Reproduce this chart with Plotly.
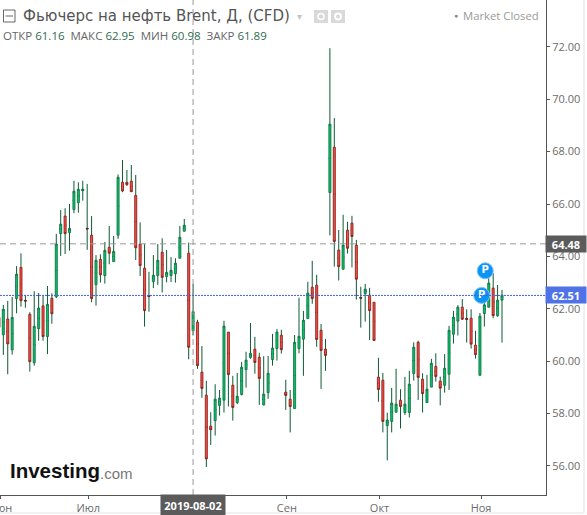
import plotly.graph_objects as go

# daily Brent bars, 2019-06-03 .. 2019-11-08, one entry per trading day
opens = [61.67, 61.01, 61.61, 60.43, 62.39, 63.58, 62.32, 61.79, 59.94, 61.24,
         62.11, 60.94, 62.40, 62.46, 64.87, 65.54, 64.91, 65.79, 66.05, 66.51,
         65.07, 64.81, 62.92, 63.89, 63.27, 64.35, 63.80, 64.81, 66.83, 66.83,
         66.87, 66.33, 64.47, 63.55, 62.49, 63.04, 63.27, 64.16, 63.23, 63.27,
         63.34, 63.93, 64.96, 64.12, 61.16, 61.49, 59.58, 58.70, 57.52, 57.73,
         58.31, 58.51, 61.11, 59.08, 58.42, 58.73, 59.68, 60.14, 60.46, 60.15,
         58.33, 58.80, 60.06, 60.48, 60.99, 58.82, 58.55, 58.19, 60.48, 60.84,
         61.63, 62.82, 62.90, 61.18, 60.46, 66.44, 68.17, 64.24, 63.51, 65.00,
         65.27, 64.43, 62.43, 62.58, 62.52, 62.25, 59.39, 59.27, 57.54, 57.70,
         58.05, 58.51, 58.04, 58.04, 59.53, 60.72, 59.31, 58.42, 59.01, 59.80,
         59.24, 59.08, 59.50, 61.03, 61.53, 62.06, 61.63, 61.64, 60.61, 59.46,
         61.82, 62.06, 62.79, 61.73, 62.33]
highs = [62.00, 62.15, 62.30, 62.45, 63.63, 64.12, 62.53, 61.87, 62.67, 62.60,
         62.49, 62.87, 62.59, 64.86, 65.77, 65.84, 66.00, 66.89, 66.83, 66.89,
         66.77, 65.54, 64.05, 64.08, 64.55, 65.16, 64.78, 67.13, 67.68, 67.30,
         67.49, 67.11, 65.30, 64.47, 63.41, 64.05, 64.47, 64.69, 64.25, 63.97,
         63.93, 65.16, 65.43, 64.53, 62.95, 61.58, 60.58, 59.25, 58.05, 59.12,
         58.90, 61.54, 61.11, 59.44, 59.55, 59.97, 60.36, 61.46, 60.93, 60.32,
         60.19, 60.20, 61.04, 61.23, 61.20, 59.29, 58.90, 61.00, 62.42, 61.92,
         63.03, 63.83, 63.30, 61.42, 60.85, 71.95, 69.28, 65.01, 65.59, 65.32,
         65.55, 64.63, 62.84, 62.95, 62.80, 62.25, 60.13, 59.55, 58.03, 58.98,
         59.71, 58.93, 59.40, 59.63, 60.72, 60.78, 59.54, 59.48, 60.09, 60.30,
         59.41, 60.27, 61.35, 61.92, 62.14, 62.37, 61.98, 61.98, 61.16, 61.84,
         62.47, 63.17, 63.36, 62.91, 62.72]
lows = [61.10, 60.24, 59.50, 60.25, 61.83, 62.08, 62.04, 59.60, 59.83, 60.78,
        60.78, 60.27, 61.43, 62.41, 64.02, 64.09, 64.22, 65.65, 65.67, 66.13,
        64.25, 62.25, 62.12, 63.00, 62.96, 63.70, 63.80, 64.67, 66.45, 66.69,
        66.47, 63.86, 63.25, 61.32, 61.89, 62.79, 62.91, 62.62, 63.01, 63.02,
        63.00, 63.93, 64.96, 60.07, 60.98, 59.71, 58.60, 55.96, 56.80, 57.16,
        57.92, 58.04, 58.27, 57.73, 58.36, 58.69, 58.99, 60.09, 59.52, 58.33,
        58.31, 58.56, 59.83, 60.02, 60.29, 58.14, 57.28, 58.19, 60.30, 59.44,
        61.63, 62.19, 60.55, 58.94, 59.63, 64.80, 63.61, 63.08, 63.51, 64.11,
        63.58, 62.35, 61.28, 61.51, 60.81, 60.79, 58.45, 57.28, 56.21, 57.28,
        58.05, 57.43, 57.95, 57.85, 59.26, 58.52, 58.04, 58.42, 59.01, 59.22,
        58.31, 58.80, 58.90, 60.67, 60.98, 61.58, 60.71, 60.48, 60.10, 59.46,
        61.32, 62.06, 61.64, 61.70, 60.71]
closes = [61.29, 61.98, 60.66, 61.67, 63.32, 62.31, 62.30, 59.98, 61.33, 62.03,
          60.94, 62.17, 61.81, 64.47, 65.23, 64.87, 65.07, 66.49, 66.56, 66.57,
          65.05, 62.39, 63.85, 63.30, 64.23, 64.12, 64.19, 67.02, 66.50, 66.74,
          66.47, 64.33, 63.65, 61.93, 62.47, 63.28, 63.85, 63.20, 63.39, 63.47,
          63.74, 64.73, 65.19, 60.53, 61.89, 59.83, 58.96, 56.27, 57.38, 58.55,
          58.59, 61.34, 59.49, 58.23, 58.66, 59.77, 60.04, 60.30, 59.95, 59.34,
          58.74, 59.54, 60.50, 61.11, 60.44, 58.69, 58.27, 60.72, 60.95, 61.56,
          62.60, 62.39, 60.83, 60.41, 60.22, 69.05, 64.57, 63.61, 64.43, 64.31,
          64.76, 63.13, 62.41, 62.75, 61.93, 60.79, 58.92, 57.70, 57.75, 58.40,
          58.36, 58.27, 58.36, 59.12, 60.53, 59.38, 58.76, 58.93, 59.92, 59.41,
          58.97, 59.73, 61.18, 61.68, 62.06, 61.60, 61.60, 60.65, 60.25, 61.72,
          62.15, 62.98, 61.74, 62.33, 62.52]

tick_days = [0, 20, 65, 86, 109]
tick_labels = ["Июн", "Июл", "Сен", "Окт", "Ноя"]
price_ticks = [56, 58, 60, 62, 64, 66, 68, 70, 72]
cross_day = 44
cross_label = "2019-08-02"
cross_price = 64.48
last_price = 62.51
pivot_days = [109.4, 110.2]
pivot_prices = [62.51, 63.45]

days = list(range(len(closes)))
body_top = [max(o, c) for o, c in zip(opens, closes)]
body_bot = [min(o, c) for o, c in zip(opens, closes)]
body_mid = [(o + c) / 2 for o, c in zip(opens, closes)]

WICK = "#0d5a36"
GREY = "#6b6b6b"
W, H = 587, 515
R, B = 546, 495  # plot area edge in page pixels


def px(x):
    return x / R


def py(y):
    return (B - y) / B


fig = go.Figure()
# wicks first (body collapsed to its midpoint), then the real bodies on top so red bars keep a green wick
fig.add_trace(go.Candlestick(x=days, open=body_mid, high=highs, low=lows, close=body_mid,
                             increasing=dict(line=dict(color=WICK, width=1), fillcolor=WICK),
                             decreasing=dict(line=dict(color=WICK, width=1), fillcolor=WICK),
                             whiskerwidth=0, hoverinfo="skip", showlegend=False))
fig.add_trace(go.Candlestick(x=days, open=opens, high=body_top, low=body_bot, close=closes,
                             increasing=dict(line=dict(color="#146b42", width=0.8), fillcolor="#00c466"),
                             decreasing=dict(line=dict(color="#7a1f1c", width=0.8), fillcolor="#ff4a3d"),
                             whiskerwidth=0, showlegend=False))
fig.add_trace(go.Scatter(x=pivot_days, y=pivot_prices, mode="markers+text", text=["P", "P"],
                         textposition="middle center",
                         textfont=dict(family="DejaVu Sans", size=10, color="white", weight="bold"),
                         marker=dict(size=16, color="#0b93f6", line=dict(color="#7cc4fa", width=1)),
                         hoverinfo="skip", showlegend=False))

shapes = [
    dict(type="line", xref="x", yref="paper", x0=cross_day, x1=cross_day, y0=0, y1=py(0),
         line=dict(color="#9a9a9a", width=1, dash="6px,4px")),
    dict(type="line", xref="paper", yref="y", x0=0, x1=1, y0=cross_price, y1=cross_price,
         line=dict(color="#9a9a9a", width=1, dash="6px,4px")),
    dict(type="line", xref="paper", yref="y", x0=0, x1=1, y0=last_price, y1=last_price,
         line=dict(color="#3f63d8", width=1, dash="2px,1px")),
    # collapse icon in the header
    dict(type="rect", xref="paper", yref="paper", x0=px(3.5), x1=px(15), y0=py(10), y1=py(22),
         line=dict(color="#666666", width=1)),
    dict(type="line", xref="paper", yref="paper", x0=px(5.5), x1=px(13), y0=py(16), y1=py(16),
         line=dict(color="#666666", width=1)),
    # greyed header buttons
    dict(type="rect", xref="paper", yref="paper", x0=px(314), x1=px(328), y0=py(10), y1=py(23),
         line=dict(width=0), fillcolor="#d9d9d9"),
    dict(type="circle", xref="paper", yref="paper", x0=px(318), x1=px(324), y0=py(13.5), y1=py(19.5),
         line=dict(width=1.5, color="white")),
    dict(type="rect", xref="paper", yref="paper", x0=px(331), x1=px(345), y0=py(10), y1=py(23),
         line=dict(width=0), fillcolor="#d9d9d9"),
    dict(type="circle", xref="paper", yref="paper", x0=px(335), x1=px(341), y0=py(13.5), y1=py(19.5),
         line=dict(width=2, color="white")),
    # page frame
    dict(type="line", xref="paper", yref="paper", x0=px(584), x1=px(584), y0=py(0), y1=py(513),
         line=dict(color="#e3e3e3", width=1)),
    dict(type="line", xref="paper", yref="paper", x0=0, x1=px(584), y0=py(513), y1=py(513),
         line=dict(color="#e3e3e3", width=1)),
]


def note(x, y, text, size=11, color=GREY, family="Open Sans", anchor="left", **kw):
    return dict(xref="paper", yref="paper", x=px(x), y=py(y), text=text, showarrow=False,
                xanchor=anchor, yanchor="middle", font=dict(family=family, size=size, color=color), **kw)


VAL = "#2f6b4f"
legend_line = (f"ОТКР <span style='color:{VAL}'>{opens[cross_day]:.2f}</span>  "
               f"МАКС <span style='color:{VAL}'>{highs[cross_day]:.2f}</span>  "
               f"МИН <span style='color:{VAL}'>{lows[cross_day]:.2f}</span>  "
               f"ЗАКР <span style='color:{VAL}'>{closes[cross_day]:.2f}</span>")
annotations = [
    note(21, 16, "Фьючерс на нефть Brent, Д, (CFD)", size=15, color="#555555", family="DejaVu Sans"),
    note(295, 16, "▾", size=10, color="#c4c4c4"),
    note(1, 35, legend_line, size=11.5, color="#666666"),
    note(452, 16, "●", size=7, color="#8c8c8c"),
    note(461, 16, "Market Closed", size=11.3, color="#9a9a9a"),
    note(8, 470, "<b>Investing</b>", size=20.5, color="#111111", family="Liberation Sans"),
    note(98, 473, ".com", size=15, color="#777777", family="Liberation Sans"),
    dict(xref="paper", yref="y", x=px(565.5), y=cross_price, text=f"<b>{cross_price:.2f}</b>", showarrow=False,
         font=dict(family="Open Sans", size=11, color="white"), bgcolor="#5b5b5b", width=38, height=14,
         xanchor="center", yanchor="middle"),
    dict(xref="paper", yref="y", x=px(565.5), y=last_price, text=f"<b>{last_price:.2f}</b>", showarrow=False,
         font=dict(family="Open Sans", size=11, color="white"), bgcolor="#4f73e6", width=38, height=14,
         xanchor="center", yanchor="middle"),
    dict(xref="x", yref="paper", x=cross_day, y=py(505), text=f"<b>{cross_label}</b>", showarrow=False,
         font=dict(family="Open Sans", size=11, color="white"), bgcolor="#5b5b5b", width=62, height=18,
         xanchor="center", yanchor="middle"),
]

fig.update_layout(
    width=W, height=H, margin=dict(l=0, r=W - R, t=0, b=H - B, pad=0, autoexpand=False),
    paper_bgcolor="white", plot_bgcolor="white", boxgap=0.32, showlegend=False,
    shapes=shapes, annotations=annotations,
    font=dict(family="Open Sans", size=11, color=GREY),
    xaxis=dict(range=[0.245, 123.97], rangeslider=dict(visible=False), showgrid=False, zeroline=False,
               tickmode="array", tickvals=[d + 0.25 for d in tick_days], ticktext=tick_labels,
               ticklabeloverflow="allow",
               ticks="outside", ticklen=3, tickcolor="#555555", showline=True, linecolor="#555555", linewidth=1),
    yaxis=dict(range=[54.89, 73.79], side="right", showgrid=False, zeroline=False,
               tickmode="array", tickvals=price_ticks, ticktext=[f"{p:.2f}" for p in price_ticks],
               ticks="outside", ticklen=3, tickcolor="#555555", showline=True, linecolor="#555555", linewidth=1),
)

# the page adds a default 8px body margin, drop it so the chart sits at the window corner
fig.write_html("out.html", config={"displayModeBar": False},
               post_script="document.body.style.margin='0';")
